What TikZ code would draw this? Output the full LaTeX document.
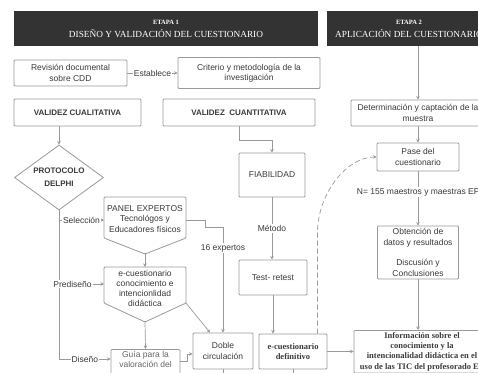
\documentclass[tikz,border=0pt]{standalone}
\usepackage{fontspec}
\setmainfont{Liberation Sans}
\newfontfamily\serifB{Liberation Serif}
\usetikzlibrary{shapes.geometric,arrows.meta}
\definecolor{bordc}{HTML}{9A9A9A}
\definecolor{txtc}{HTML}{3A3A3A}
\definecolor{hdrc}{HTML}{333333}
\begin{document}
\begin{tikzpicture}[x=1pt,y=-1pt,
 every node/.style={font=\fontsize{8.5}{10.3}\selectfont, text=txtc},
 box/.style={draw=bordc, line width=0.8pt, rounded corners=1pt, align=center, inner sep=2pt, fill=white},
 shp/.style={draw=bordc, line width=0.8pt, rounded corners=1pt, fill=white},
 txt/.style={align=center, inner sep=1pt},
 hdr/.style={fill=hdrc, draw=none, text=white, align=center, font=\serifB\fontsize{9.3}{12}\selectfont},
 etapa/.style={font=\serifB\bfseries\fontsize{6.5}{8}\selectfont},
 serb/.style={font=\serifB\bfseries\fontsize{8.5}{10.3}\selectfont},
 conn/.style={draw=bordc, line width=0.7pt},
 arr/.style={conn, -{Stealth[length=3.5pt,width=3.5pt]}},
 lbl/.style={fill=white, inner sep=1pt}]
\useasboundingbox (0,0) rectangle (478,372);
\clip (0,0) rectangle (478,372);
\fill[white] (0,0) rectangle (478,372);

% headers
\node[hdr, minimum width=304, minimum height=35] (h1) at (166,28.5)
  {{\serifB\bfseries\fontsize{6.5}{8}\selectfont ETAPA 1}\\[1pt] DISEÑO Y VALIDACIÓN DEL CUESTIONARIO};
\node[hdr, minimum width=164, minimum height=35] (h2) at (409,28.5)
  {{\serifB\bfseries\fontsize{6.5}{8}\selectfont ETAPA 2}\\[1pt] APLICACIÓN DEL CUESTIONARIO};

% stage 1 boxes
\node[box, minimum width=113, minimum height=26] (rev) at (70.5,73) {Revisión documental\\sobre CDD};
\node[box, minimum width=142, minimum height=31] (crit) at (249,73) {Criterio y metodología de la\\investigación};
\node[box, minimum width=127, minimum height=27, font=\bfseries\fontsize{8}{10}\selectfont] (vcual) at (77.5,112.5) {VALIDEZ CUALITATIVA};
\node[box, minimum width=152, minimum height=27, font=\bfseries\fontsize{8}{10}\selectfont] (vcuan) at (239,112.5) {VALIDEZ\ \ CUANTITATIVA};
\node[draw=bordc, line width=0.8pt, fill=white, shape=diamond, aspect=1.37, minimum width=89, minimum height=65,
  inner sep=0pt, align=center, font=\bfseries\fontsize{8}{13}\selectfont] (delphi) at (59,177.5) {PROTOCOLO\\DELPHI};

% panel expertos shape
\coordinate (pNW) at (104,197);
\coordinate (pNE) at (186,197);
\coordinate (pSE) at (186,238);
\coordinate (pTip) at (145,254);
\coordinate (pSW) at (104,238);
\coordinate (pW) at (104,220);
\coordinate (pE) at (186,220);
\draw[shp] (pNW) -- (pNE) -- (pSE) -- (pTip) -- (pSW) -- cycle;
\node[txt] (panel) at (145,219) {PANEL EXPERTOS\\Tecnológos y\\Educadores físicos};

% e-cuestionario shape
\coordinate (eNW) at (104,267);
\coordinate (eN) at (145,267);
\coordinate (eNE) at (186,267);
\coordinate (eSE) at (186,303);
\coordinate (eTip) at (145,322);
\coordinate (eSW) at (104,303);
\coordinate (eW) at (104,284);
\draw[shp] (eNW) -- (eNE) -- (eSE) -- (eTip) -- (eSW) -- cycle;
\node[txt] (ecues) at (145,288.5) {e-cuestionario\\conocimiento e\\intencionlidad\\didáctica};

\node[box, anchor=north, minimum width=69, text=black!60] (guia) at (145.5,349) {Guía para la\\valoración del\\\strut};
\node[box, minimum width=60, minimum height=36] (doble) at (223,351) {Doble\\circulación};
\node[box, minimum width=66, minimum height=44] (fiab) at (272,175) {FIABILIDAD};
\node[box, minimum width=68, minimum height=35] (test) at (273,277.5) {Test- retest};
\node[box, minimum width=68, minimum height=35, serb] (edef) at (293,351.5) {e-cuestionario\\definitivo};

% stage 2 boxes
\node[box, minimum width=134, minimum height=26] (deter) at (418,113) {Determinación y captación de la\\muestra};
\node[box, minimum width=82, minimum height=28] (pase) at (418,157) {Pase del\\cuestionario};
\node[box, minimum width=81, minimum height=53] (obt) at (418,252.5) {Obtención de\\datos y resultados\\[10.3pt]Discusión y\\Conclusiones};
\node[box, anchor=north, minimum width=136, serb] (info) at (422,330)
  {Información sobre el\\conocimiento y la\\intencionalidad didáctica en el\\uso de las TIC del profesorado EF};

% connectors stage 1
\draw[arr] (rev) -- node[lbl]{Establece} (crit);
\draw[arr] (vcual.south -| delphi.north) -- (delphi.north);
\coordinate (dSel) at (59,220);
\coordinate (dPre) at (59,284);
\coordinate (dDis) at (59,359);
\draw[conn] (delphi.south) -- (dDis);
\draw[arr] (dSel) -- node[lbl]{Selección} (pW);
\draw[arr] (dPre) -- node[lbl,pos=0.3]{Prediseño} (eW);
\draw[arr] (dDis) -- node[lbl]{Diseño} (dDis -| guia.west);
\draw[arr] (pTip) -- (eN);
\draw[arr] (eTip) -- (guia.north);
\draw[arr] (eSE) -- ([xshift=-13pt]doble.north);
\coordinate (pj) at (205,227);
\draw[arr] (pE) -| (pj) -| (doble.north) node[lbl,pos=0.6]{16 expertos};
\coordinate (gj) at (187,361);
\draw[arr] (gj -| guia.east) -- (gj) |- ([yshift=-3pt]doble.west);
\draw[arr] (vcuan.south) -- ++(0,14) -| (fiab.north);
\draw[arr] (fiab.south) -- node[lbl]{Método} (fiab.south |- test.north);
\draw[arr] (test.south) -- (test.south |- edef.north);
\draw[arr] (edef.east) -- (edef.east -| info.west);
\draw[arr, dash pattern=on 5pt off 3pt] ([xshift=-10pt]edef.north east) -- ++(0,-100)
   .. controls +(0,-40) and +(-30,0) .. (pase.west);
\coordinate (edefOut) at (293,385);
\coordinate (dobleOut) at (223,385);
\draw[conn] (edef.south) -- (edefOut);
\draw[conn] (doble.south) -- (dobleOut);

% connectors stage 2
\draw[arr] (deter.north |- h2.south) -- (deter.north);
\draw[arr] (deter.south) -- (pase.north);
\draw[arr] (pase.south) -- node[lbl,pos=0.38]{N= 155 maestros y maestras EF} (obt.north);
\draw[arr] (obt.south) -- (obt.south |- info.north);
\end{tikzpicture}
\end{document}
